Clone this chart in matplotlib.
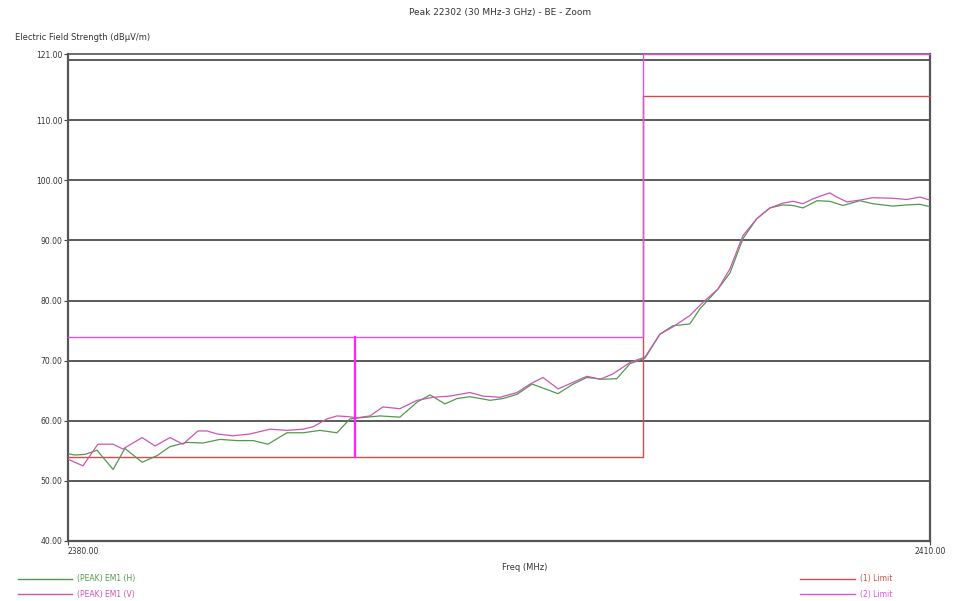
import matplotlib
matplotlib.use("Agg")
import matplotlib.pyplot as plt
from matplotlib.lines import Line2D

# ---- data ----
title = "Peak 22302 (30 MHz-3 GHz) - BE - Zoom"
y_label = "Electric Field Strength (dBµV/m)"
x_label = "Freq (MHz)"

f_start, f_stop = 2380.0, 2410.0
y_min, y_max = 40.0, 121.0
y_grid = [50, 60, 70, 80, 90, 100, 110, 120]
y_tick_vals = [40, 50, 60, 70, 80, 90, 100, 110, 121]

freq_h = [2380.00, 2380.24, 2380.59, 2381.01, 2381.57, 2381.98, 2382.58, 2383.10,
          2383.55, 2384.14, 2384.70, 2385.29, 2385.88, 2386.44, 2386.96, 2387.62,
          2388.18, 2388.77, 2389.36, 2389.81, 2390.16, 2390.86, 2391.55, 2392.15,
          2392.60, 2393.12, 2393.54, 2393.99, 2394.69, 2395.14, 2395.63, 2396.15,
          2396.78, 2397.05, 2397.58, 2398.06, 2398.62, 2399.10, 2399.56, 2400.08,
          2400.60, 2401.05, 2401.64, 2401.99, 2402.62, 2403.04, 2403.49, 2403.97,
          2404.43, 2404.88, 2405.23, 2405.58, 2406.07, 2406.51, 2406.97, 2407.56,
          2408.01, 2408.71, 2409.19, 2409.65, 2410.00]
peak_h = [54.5, 54.3, 54.4, 55.1, 51.9, 55.4, 53.1, 54.2,
          55.7, 56.4, 56.3, 56.9, 56.7, 56.7, 56.1, 58.0,
          58.0, 58.4, 58.0, 60.3, 60.5, 60.8, 60.6, 63.1,
          64.3, 62.8, 63.7, 64.0, 63.4, 63.7, 64.4, 66.1,
          65.0, 64.5, 66.1, 67.2, 66.9, 67.0, 69.5, 70.4,
          74.4, 75.8, 76.1, 78.6, 81.9, 84.6, 90.3, 93.6,
          95.4, 95.9, 95.8, 95.4, 96.6, 96.5, 95.8, 96.6,
          96.1, 95.7, 95.9, 96.0, 95.6]

freq_v = [2380.00, 2380.52, 2381.04, 2381.57, 2381.91, 2382.58, 2383.03, 2383.55,
          2384.00, 2384.52, 2384.84, 2385.19, 2385.74, 2386.33, 2387.03, 2387.62,
          2388.18, 2388.53, 2389.01, 2389.36, 2389.71, 2390.06, 2390.51, 2390.96,
          2391.55, 2392.15, 2392.70, 2393.29, 2393.99, 2394.44, 2395.03, 2395.63,
          2396.08, 2396.53, 2397.06, 2397.58, 2398.06, 2398.52, 2398.97, 2399.56,
          2400.08, 2400.60, 2401.05, 2401.64, 2402.10, 2402.62, 2403.04, 2403.49,
          2403.97, 2404.43, 2404.88, 2405.23, 2405.58, 2405.92, 2406.27, 2406.51,
          2406.76, 2407.11, 2407.56, 2408.01, 2408.71, 2409.19, 2409.65, 2410.00]
peak_v = [53.6, 52.5, 56.1, 56.1, 55.3, 57.2, 55.8, 57.2,
          56.1, 58.3, 58.3, 57.8, 57.5, 57.8, 58.6, 58.4,
          58.6, 59.0, 60.3, 60.8, 60.7, 60.5, 60.8, 62.3,
          62.0, 63.4, 63.9, 64.1, 64.7, 64.1, 63.9, 64.7,
          66.1, 67.2, 65.3, 66.4, 67.4, 66.9, 67.8, 69.7,
          70.6, 74.4, 75.6, 77.5, 79.7, 81.9, 85.3, 90.8,
          93.6, 95.4, 96.2, 96.5, 96.1, 96.9, 97.5, 97.9,
          97.2, 96.4, 96.7, 97.1, 97.0, 96.8, 97.2, 96.7]

limit1_f = [2380.0, 2400.0, 2400.0, 2410.0]
limit1_v = [54.0, 54.0, 114.0, 114.0]
limit2_f = [2380.0, 2400.0, 2400.0, 2410.0]
limit2_v = [74.0, 74.0, 121.0, 121.0]
band_edge_f = 2390.0
band_edge_v = [54.0, 74.0]

# ---- styles ----
c_h = "#4f9a4f"
c_v = "#cc55b4"
c_lim1 = "#cf4f4f"
c_lim2 = "#dc52dc"
c_edge = "#ff22ff"
c_grid = "#5a5a5a"

plt.rcParams["font.family"] = ["DejaVu Sans"]

fig = plt.figure(figsize=(9.55, 6.01), dpi=100)
ax = fig.add_axes([68 / 955, 1 - 541 / 601, (930 - 68) / 955, (541 - 54) / 601])

for g in y_grid:
    ax.axhline(g, color=c_grid, lw=1.4, zorder=1)

ax.plot(limit1_f, limit1_v, color=c_lim1, lw=1.0, zorder=3, clip_on=False)
ax.plot(freq_h, peak_h, color=c_h, lw=0.9, zorder=4)
ax.plot(freq_v, peak_v, color=c_v, lw=0.9, zorder=5)
ax.plot(limit2_f, limit2_v, color=c_lim2, lw=1.0, zorder=6, clip_on=False)
ax.plot([band_edge_f, band_edge_f], band_edge_v, color=c_edge, lw=1.6, zorder=6)

ax.set_xlim(f_start, f_stop)
ax.set_ylim(y_min, y_max)

ax.set_yticks(y_tick_vals)
ax.set_yticklabels([f"{v:.2f}" for v in y_tick_vals], fontsize=5.5, color="#333333")
ax.set_xticks([f_start, f_stop])
ax.set_xticklabels([])
ax.tick_params(axis="y", length=3, width=0.8, pad=1, color="#444444")
ax.tick_params(axis="x", length=3, width=0.8, color="#444444")

for side in ["left", "bottom", "right"]:
    ax.spines[side].set_color("#555555")
    ax.spines[side].set_linewidth(1.6)
ax.spines["top"].set_color("#555555")
ax.spines["top"].set_linewidth(1.2)

# axis end labels
ax.text(f_start, -0.012, f"{f_start:.2f}", transform=ax.get_xaxis_transform(),
        ha="left", va="top", fontsize=5.5, color="#333333")
ax.text(f_stop, -0.012, f"{f_stop:.2f}", transform=ax.get_xaxis_transform(),
        ha="center", va="top", fontsize=5.5, color="#333333")

fig.text(525 / 955, 1 - 568 / 601, x_label, ha="center", va="center",
         fontsize=6, color="#333333")
fig.text(15 / 955, 1 - 37 / 601, y_label, ha="left", va="center",
         fontsize=6, color="#333333")
fig.text(500 / 955, 1 - 12 / 601, title, ha="center", va="center",
         fontsize=6.5, color="#333333")

# legend rows at the bottom
def legend_entry(x0, x1, y, color, label):
    yy = 1 - y / 601
    fig.add_artist(Line2D([x0 / 955, x1 / 955], [yy, yy], color=color, lw=1.0,
                          transform=fig.transFigure))
    fig.text((x1 + 5) / 955, yy, label, ha="left", va="center",
             fontsize=5.5, color=color)

legend_entry(18, 72, 579, c_h, "(PEAK) EM1 (H)")
legend_entry(18, 72, 594, c_v, "(PEAK) EM1 (V)")
legend_entry(800, 855, 579, c_lim1, "(1) Limit")
legend_entry(800, 855, 594, c_lim2, "(2) Limit")

fig.savefig("out.png", dpi=100)
